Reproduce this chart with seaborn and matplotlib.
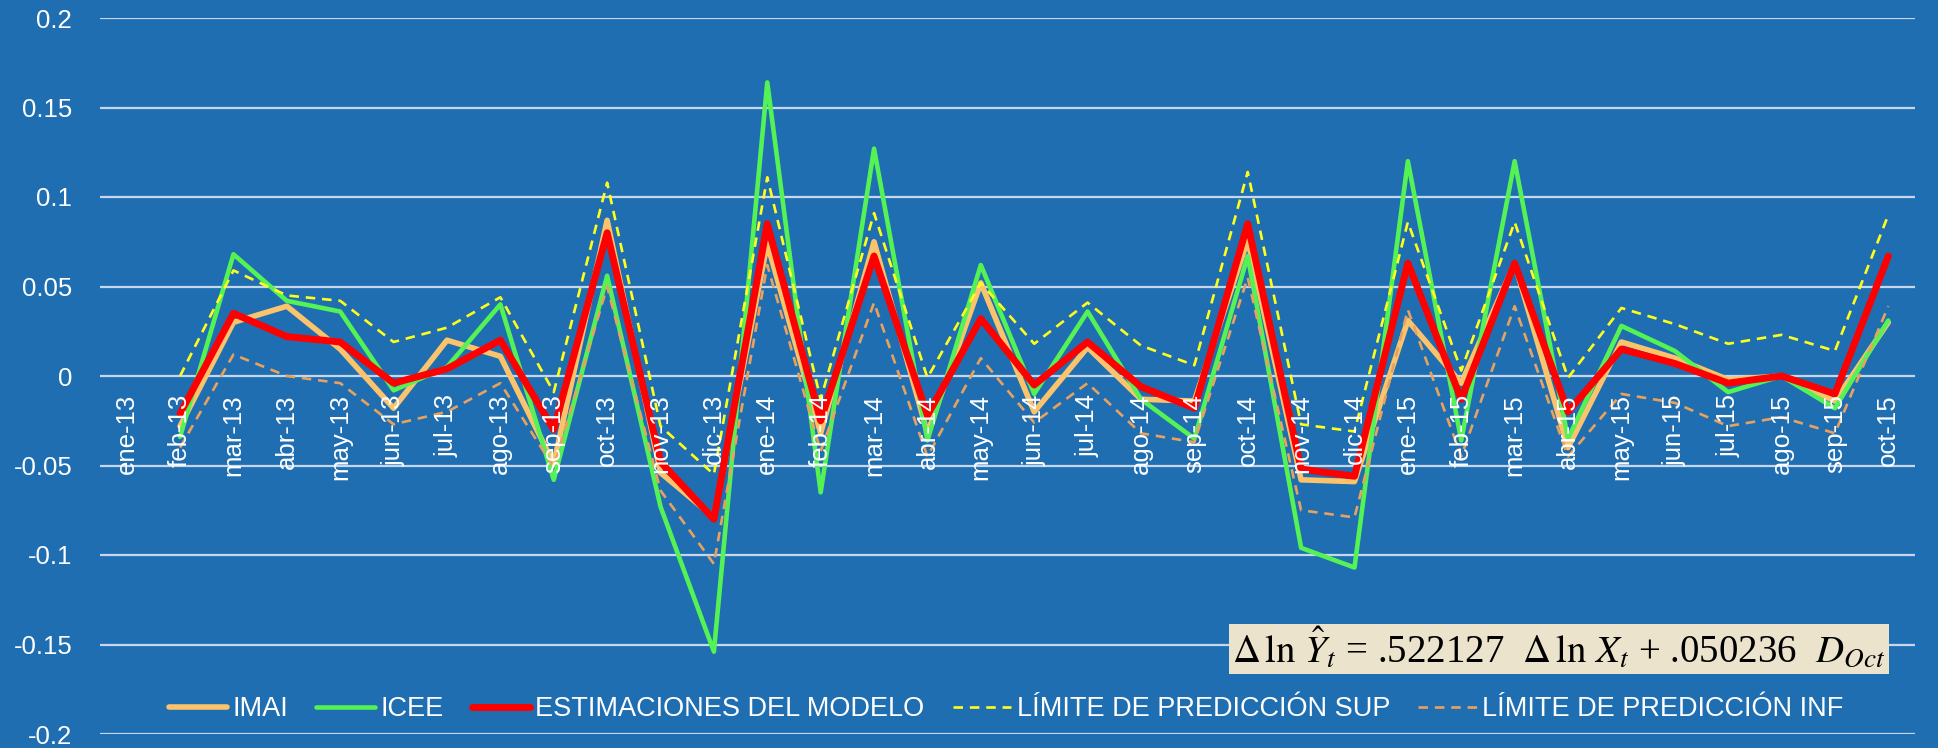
import numpy as np
import pandas as pd
import matplotlib
matplotlib.use("Agg")
import matplotlib.pyplot as plt
import seaborn as sns

months = ["ene-13", "feb-13", "mar-13", "abr-13", "may-13", "jun-13", "jul-13", "ago-13",
          "sep-13", "oct-13", "nov-13", "dic-13", "ene-14", "feb-14", "mar-14", "abr-14",
          "may-14", "jun-14", "jul-14", "ago-14", "sep-14", "oct-14", "nov-14", "dic-14",
          "ene-15", "feb-15", "mar-15", "abr-15", "may-15", "jun-15", "jul-15", "ago-15",
          "sep-15", "oct-15"]

imai = [np.nan, -0.028, 0.030, 0.039, 0.015, -0.018, 0.020, 0.011, -0.049, 0.087, -0.054, -0.079,
        0.074, -0.032, 0.075, -0.032, 0.052, -0.020, 0.016, -0.013, -0.014, 0.076, -0.058, -0.059,
        0.031, -0.004, 0.063, -0.040, 0.019, 0.010, -0.002, 0.000, -0.014, 0.030]
icee = [np.nan, -0.034, 0.068, 0.042, 0.036, -0.008, 0.005, 0.040, -0.058, 0.056, -0.073, -0.154,
        0.164, -0.065, 0.127, -0.036, 0.062, -0.010, 0.036, -0.013, -0.035, 0.067, -0.096, -0.107,
        0.120, -0.036, 0.120, -0.035, 0.028, 0.014, -0.009, 0.000, -0.018, 0.031]
modelo = [np.nan, -0.021, 0.035, 0.022, 0.019, -0.004, 0.004, 0.020, -0.030, 0.080, -0.048, -0.080,
          0.085, -0.025, 0.067, -0.022, 0.032, -0.005, 0.019, -0.006, -0.018, 0.085, -0.052, -0.056,
          0.063, -0.013, 0.063, -0.020, 0.015, 0.007, -0.004, 0.000, -0.010, 0.067]
lim_sup = [np.nan, 0.000, 0.059, 0.045, 0.042, 0.019, 0.027, 0.044, -0.009, 0.108, -0.028, -0.055,
           0.111, -0.013, 0.091, -0.001, 0.052, 0.018, 0.041, 0.017, 0.006, 0.114, -0.027, -0.031,
           0.086, 0.003, 0.086, -0.001, 0.038, 0.029, 0.018, 0.023, 0.014, 0.090]
lim_inf = [np.nan, -0.040, 0.012, 0.000, -0.004, -0.027, -0.020, -0.004, -0.051, 0.050, -0.064, -0.105,
           0.062, -0.042, 0.041, -0.045, 0.010, -0.026, -0.004, -0.032, -0.037, 0.055, -0.075, -0.079,
           0.037, -0.045, 0.039, -0.045, -0.010, -0.015, -0.028, -0.023, -0.032, 0.039]

labels = ["IMAI", "ICEE", "ESTIMACIONES DEL MODELO", "LÍMITE DE PREDICCIÓN SUP", "LÍMITE DE PREDICCIÓN INF"]
y_ticks = [0.2, 0.15, 0.1, 0.05, 0, -0.05, -0.1, -0.15, -0.2]
y_tick_labels = ["0.2", "0.15", "0.1", "0.05", "0", "-0.05", "-0.1", "-0.15", "-0.2"]

BG = "#1f6eb2"
sns.set_theme(style="white")
plt.rcParams["font.family"] = ["Liberation Sans", "DejaVu Sans"]
plt.rcParams["mathtext.fontset"] = "stix"

fig = plt.figure(figsize=(19.38, 7.48), dpi=100, facecolor=BG)
ax = fig.add_axes([100 / 1938, 14 / 748, (1915 - 100) / 1938, (734 - 18) / 748])
ax.set_facecolor(BG)
ax.spines["bottom"].set_position(("data", 0))

x = np.arange(len(months))
styles = [
    dict(color="#fbc46c", lw=4.0, ls="-"),
    dict(color="#55f255", lw=3.3, ls="-"),
    dict(color="#ff0000", lw=5.0, ls="-"),
    dict(color="#ffff1a", lw=1.9, ls=(0, (3.6, 2.6))),
    dict(color="#e8a25e", lw=1.9, ls=(0, (3.6, 2.6))),
]
series = [imai, icee, modelo, lim_sup, lim_inf]
handles = []
for i, (vals, st, lab) in enumerate(zip(series, styles, labels)):
    df = pd.DataFrame({"x": x, "y": vals})
    sns.lineplot(data=df, x="x", y="y", ax=ax, color=st["color"], linewidth=st["lw"],
                 linestyle=st["ls"], estimator=None, errorbar=None,
                 zorder=3 + i, legend=False)
    handles.append(plt.Line2D([], [], color=st["color"], lw=st["lw"], ls=st["ls"]))

ax.set_xlim(-0.5, len(months) - 0.5)
ax.set_ylim(-0.2, 0.2)
ax.set_yticks(y_ticks)
ax.set_yticklabels(y_tick_labels)
ax.set_xticks(x)
ax.set_xticklabels(months)
for s in ax.spines.values():
    s.set_visible(False)
ax.tick_params(axis="x", length=0, pad=13, labelsize=18.5, colors="white", labelrotation=90)
ax.tick_params(axis="y", length=0, pad=20, labelsize=18.5, colors="white")
for t in ax.get_xticklabels():
    t.set_va("top")
    t.set_ha("center")
ax.set_xlabel("")
ax.set_ylabel("")
ax.grid(axis="y", color="#c6d7ec", lw=1.6)
ax.grid(axis="x", visible=False)
ax.set_axisbelow(True)
ax.xaxis.set_zorder(20)

leg = fig.legend(handles, labels, loc="center", bbox_to_anchor=(1006 / 1938, 39 / 748), ncol=5,
                 frameon=False, fontsize=19.5, handlelength=2.15, handletextpad=0.2,
                 columnspacing=1.05, labelcolor="white")

fig.text(1559 / 1938, 1 - 649 / 748,
         r"$\Delta\,\ln\,\hat{Y}_t$ = .522127  $\Delta\,\ln\,X_t$ + .050236  $D_{Oct}$",
         ha="center", va="center", fontsize=28, color="black", family="Liberation Serif",
         bbox=dict(boxstyle="square,pad=0.08", facecolor="#ebe3cc", edgecolor="none"),
         zorder=10)

fig.savefig("out.png", dpi=100, facecolor=BG)
